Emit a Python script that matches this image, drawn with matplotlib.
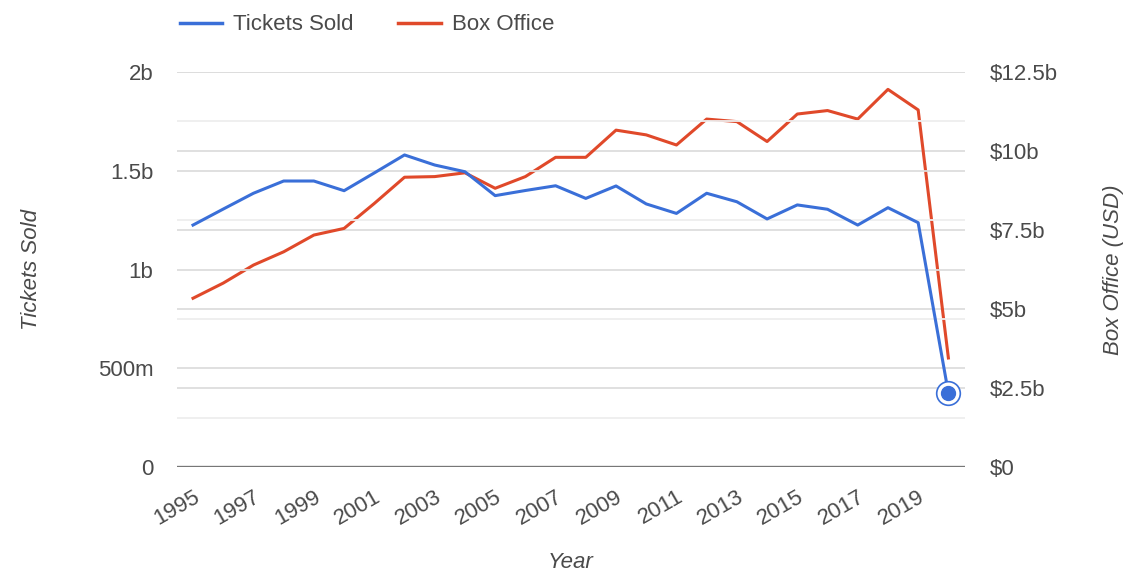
import numpy as np
import matplotlib
matplotlib.use("Agg")
import matplotlib.pyplot as plt
from matplotlib.ticker import FuncFormatter, MultipleLocator
from matplotlib.lines import Line2D

plt.rcParams["font.family"] = ["Liberation Sans", "DejaVu Sans"]

years = list(range(1995, 2021))
tickets_sold = [1.225, 1.306, 1.386, 1.448, 1.448, 1.399, 1.489, 1.580, 1.529, 1.495,
                1.374, 1.400, 1.424, 1.360, 1.423, 1.332, 1.284, 1.386, 1.343, 1.256,
                1.327, 1.305, 1.225, 1.313, 1.237, 0.375]
box_office = [5.34, 5.82, 6.39, 6.81, 7.34, 7.55, 8.34, 9.17, 9.19, 9.31,
              8.82, 9.19, 9.80, 9.80, 10.66, 10.51, 10.19, 11.01, 10.93, 10.30,
              11.17, 11.28, 11.01, 11.95, 11.30, 3.45]
year_ticks = list(range(1995, 2020, 2))

blue = "#3a6fd8"
red = "#e0492a"
text_col = "#4a4a4a"
grid_col = "#dddddd"
minor_col = "#eeeeee"
fs = 16

fig = plt.figure(figsize=(11.38, 5.72), dpi=100)
ax = fig.add_axes([177 / 1138, 1 - 467 / 572, 788 / 1138, 395 / 572])
ax2 = ax.twinx()

# tickets axis (billions)
ax.set_ylim(0, 2)
ax.set_xlim(1994.47, 2020.55)
ax.yaxis.set_major_locator(MultipleLocator(0.5))
ax.yaxis.set_minor_locator(MultipleLocator(0.25))


def tickets_fmt(v, pos):
    if v == 0:
        return "0"
    if v < 1:
        return f"{int(round(v * 1000))}m"
    return f"{v:g}b"


ax.yaxis.set_major_formatter(FuncFormatter(tickets_fmt))
ax.grid(axis="y", which="major", color=grid_col, lw=1.3)
ax.grid(axis="y", which="minor", color=minor_col, lw=1.3)

# box office axis
ax2.set_ylim(0, 12.5)
ax2.yaxis.set_major_locator(MultipleLocator(2.5))


def box_fmt(v, pos):
    if v == 0:
        return "$0"
    return f"${v:g}b"


ax2.yaxis.set_major_formatter(FuncFormatter(box_fmt))
for y in np.arange(2.5, 12.6, 2.5):
    ax2.axhline(y, color=grid_col, lw=1.3, zorder=0)

ax.axhline(0, color="#777777", lw=2.4, zorder=3)

ax.plot(years, tickets_sold, color=blue, lw=2.2, zorder=4)
ax2.plot(years, box_office, color=red, lw=2.2, zorder=4)
# highlighted last point
ax.plot(years[-1], tickets_sold[-1], "o", ms=17, mfc="white", mec=blue, mew=1.2, zorder=5)
ax.plot(years[-1], tickets_sold[-1], "o", ms=10, mfc=blue, mec=blue, zorder=6)
ax.set_zorder(ax2.get_zorder() + 1)
ax.patch.set_visible(False)

ax.set_xticks(year_ticks)
ax.set_xticklabels([str(y) for y in year_ticks], rotation=30, ha="right",
                   rotation_mode="anchor", fontsize=fs, color=text_col)

for a in (ax, ax2):
    for s in a.spines.values():
        s.set_visible(False)
    a.tick_params(which="both", length=0, labelsize=fs, labelcolor=text_col)
ax.tick_params(axis="y", pad=17)
ax2.tick_params(axis="y", pad=18)
ax.tick_params(axis="x", pad=14)

ax.set_ylabel("Tickets Sold", fontsize=fs, style="italic", color=text_col, labelpad=40)
ax2.set_ylabel("Box Office (USD)", fontsize=fs, style="italic", color=text_col, labelpad=32)
ax.set_xlabel("Year", fontsize=fs, style="italic", color=text_col, labelpad=16)

# legend
handles = [Line2D([], [], color=blue, lw=2.5), Line2D([], [], color=red, lw=2.5)]
fig.legend(handles, ["Tickets Sold", "Box Office"], loc="upper left",
           bbox_to_anchor=(160 / 1138, 1.01), ncol=2, frameon=False,
           fontsize=fs, handlelength=1.9, handletextpad=0.5, columnspacing=2.0,
           labelcolor=text_col)

fig.savefig("out.png", dpi=100)
